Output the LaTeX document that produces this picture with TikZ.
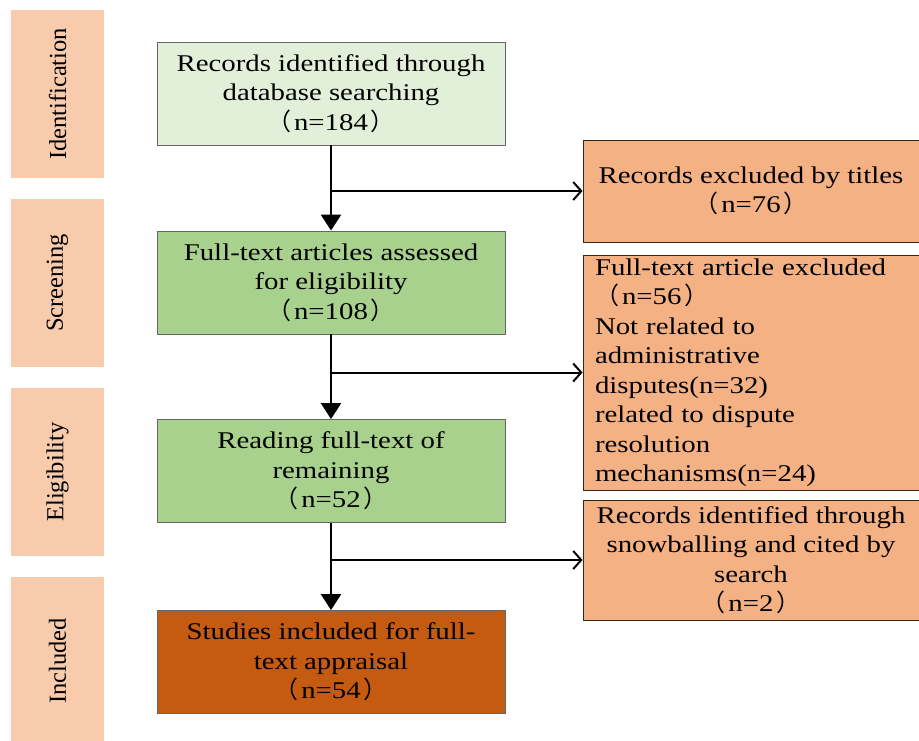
\documentclass[tikz,border=0pt]{standalone}
\usepackage{fontspec}
\setmainfont[FakeStretch=1.2]{Liberation Serif}
\newfontfamily\sidefont{Liberation Serif}
\newfontfamily\cjk{Noto Sans CJK SC}
\usepackage{xcolor}
\usetikzlibrary{positioning,calc}
\usetikzlibrary{arrows.meta}
\definecolor{peche}{HTML}{F8CBAD}
\definecolor{vertclair}{HTML}{E2F0D9}
\definecolor{vert}{HTML}{A9D18E}
\definecolor{rouille}{HTML}{C55A11}
\definecolor{saumon}{HTML}{F4B183}
\tikzset{
	boite/.style={draw=black!60, line width=0.9pt, minimum width=348pt, minimum height=103pt,
		inner sep=0pt, align=center, font=\fontsize{24}{29.5}\selectfont},
	exclu/.style={boite, fill=saumon, draw=black!70!brown, minimum width=336pt},
	phase/.style={fill=peche, minimum width=168pt, minimum height=93pt, inner sep=0pt,
		rotate=90, font=\sidefont\fontsize{24.5}{28}\selectfont},
	fleche/.style={line width=2.6pt, -{Triangle[width=20pt,length=16pt]}},
	branche/.style={line width=2pt, -{Straight Barb[width=18pt,length=8pt,line width=2pt]}}
}

\begin{document}
\begin{tikzpicture}[x=1pt,y=-1pt]
	\def\nn#1{{\cjk（}\kern3pt n=#1\kern3pt{\cjk）}}
\clip (0,0) rectangle (919,740); % cadre de la figure

%Phases
\node[phase] (P1) at (57.5,94) {Identification};
\node[phase] (P2) at (57.5,283) {Screening};
\node[phase] (P3) at (57.5,472) {Eligibility};
\node[phase] (P4) at (57.5,661) {Included};

%Etapes principales
\node[boite, fill=vertclair] (B1) at (331,93.5) {Records identified through\\database searching\\\nn{184}};
\node[boite, fill=vert] (B2) at (331,282.5) {Full-text articles assessed\\for eligibility\\\nn{108}};
\node[boite, fill=vert] (B3) at (331,471) {Reading full-text of\\remaining\\\nn{52}};
\node[boite, fill=rouille] (B4) at (331,662) {Studies included for full-\\text appraisal\\\nn{54}};

%Exclusions
\node[exclu, minimum height=102pt] (R1) at (751,191) {Records excluded by titles\\\nn{76}};
\node[exclu, minimum height=235pt, text width=312pt, inner xsep=12pt, align=left] (R2) at (751,372.5)
	{Full-text article excluded\\\nn{56}\\Not related to\\administrative\\disputes(n=32)\\related to dispute\\resolution\\mechanisms(n=24)};
\node[exclu, minimum height=120pt] (R3) at (751,560) {Records identified through\\snowballing and cited by\\search\\\nn{2}};

%Fleches
\draw[fleche] (B1) -- (B2);
\draw[fleche] (B2) -- (B3);
\draw[fleche] (B3) -- (B4);
\draw[branche] (B1 |- R1) -- (R1);
\draw[branche] (B2 |- R2) -- (R2);
\draw[branche] (B3 |- R3) -- (R3);

\end{tikzpicture}
\end{document}
